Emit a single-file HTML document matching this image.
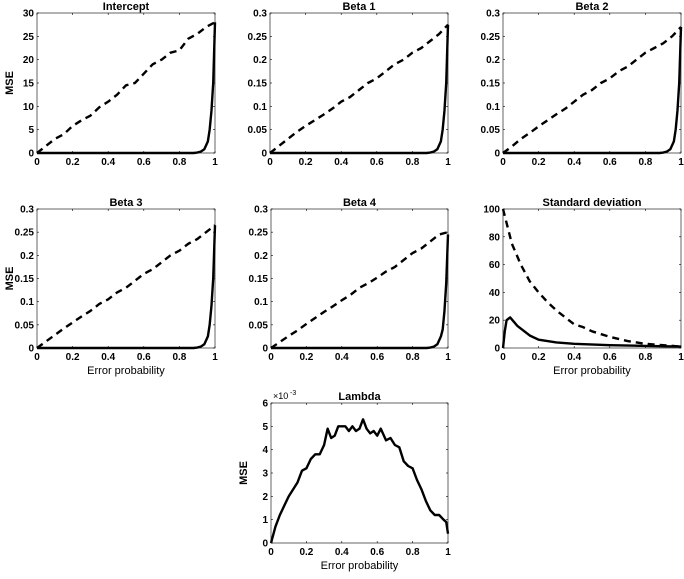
<!DOCTYPE html>
<html><head><meta charset="utf-8"><style>
body{margin:0;background:#fff;}
svg text{font-family:"Liberation Sans",Arial,sans-serif;fill:#000;}
</style></head><body>
<svg id="fig" width="684" height="574" viewBox="0 0 684 574" xmlns="http://www.w3.org/2000/svg"></svg>
<script>
const xGrid = [0,0.05,0.1,0.15,0.2,0.25,0.3,0.35,0.4,0.45,0.5,0.55,0.6,0.65,0.7,0.75,0.8,0.85,0.9,0.95,1];
const solidX = [0,0.5,0.88,0.9,0.92,0.94,0.96,0.97,0.98,0.99,1];
const interceptDash = [0,1.5,3,4,5.8,7,8,9.8,11,12.5,14.5,15,17,19,20,21.5,22,24.5,25.5,27,28];
const interceptSolid = [0,0,0,0.1,0.3,0.8,2.5,5,9,15,28];
const beta1Dash = [0,0.015,0.03,0.045,0.058,0.07,0.082,0.095,0.11,0.12,0.135,0.15,0.16,0.175,0.19,0.2,0.215,0.225,0.24,0.255,0.275];
const beta1Solid = [0,0,0,0.001,0.003,0.008,0.025,0.05,0.09,0.15,0.275];
const beta2Dash = [0,0.014,0.03,0.043,0.057,0.07,0.083,0.095,0.11,0.125,0.135,0.15,0.16,0.175,0.185,0.2,0.215,0.225,0.235,0.25,0.27];
const beta2Solid = [0,0,0,0.001,0.003,0.008,0.025,0.05,0.09,0.15,0.27];
const beta3Dash = [0,0.014,0.028,0.042,0.055,0.068,0.08,0.095,0.105,0.12,0.13,0.145,0.16,0.17,0.185,0.2,0.21,0.225,0.235,0.25,0.265];
const beta3Solid = [0,0,0,0.001,0.003,0.008,0.025,0.05,0.09,0.15,0.265];
const beta4Dash = [0,0.013,0.026,0.038,0.052,0.065,0.078,0.09,0.103,0.115,0.13,0.14,0.152,0.165,0.175,0.19,0.205,0.215,0.23,0.245,0.25];
const beta4Solid = [0,0,0,0.001,0.003,0.008,0.025,0.04,0.08,0.14,0.245];
const sdDashX = [0,0.05,0.1,0.15,0.2,0.25,0.3,0.35,0.4,0.45,0.5,0.6,0.7,0.8,0.9,1];
const sdDash = [100,75,60,48,40,33,27,22,17,15,12,8,5,3,2,1];
const sdSolidX = [0,0.01,0.02,0.04,0.06,0.08,0.1,0.15,0.2,0.3,0.4,0.6,0.8,1];
const sdSolid = [0,12,20,22,19,16,14,9,6,4,3,2,1.5,1];
const lambdaX = [0,0.025,0.05,0.075,0.1,0.125,0.15,0.175,0.2,0.225,0.25,0.275,0.3,0.32,0.34,0.36,0.38,0.4,0.42,0.44,0.46,0.48,0.5,0.52,0.54,0.56,0.58,0.6,0.62,0.65,0.675,0.7,0.725,0.75,0.775,0.8,0.825,0.85,0.875,0.9,0.925,0.95,0.975,0.99,1];
const lambdaY = [0,0.7,1.2,1.6,2.0,2.3,2.6,3.1,3.2,3.6,3.8,3.8,4.2,4.9,4.5,4.6,5.0,5.0,5.0,4.8,5.0,4.8,4.9,5.3,4.9,4.7,4.8,4.6,4.9,4.4,4.5,4.2,4.1,3.5,3.3,3.2,2.7,2.3,1.8,1.4,1.2,1.2,1.0,0.9,0.4];
const xTicks = [0,0.2,0.4,0.6,0.8,1];

const NS="http://www.w3.org/2000/svg";
const fig=document.getElementById('fig');
function mk(tag,attrs,parent){const e=document.createElementNS(NS,tag);for(const k in attrs)e.setAttribute(k,attrs[k]);(parent||fig).appendChild(e);return e;}

function panel(o){
  const g=mk('g',{});
  
  
  const sx=v=>o.x0+(o.x1-o.x0)*v;
  const sy=v=>o.y1-(o.y1-o.y0)*(v/o.ymax);
  const box=mk('rect',{x:o.x0,y:o.y0,width:o.x1-o.x0,height:o.y1-o.y0,fill:'none',stroke:'#000','stroke-width':0.6},g);
  
  
  xTicks.forEach(t=>{
    mk('line',{x1:sx(t),x2:sx(t),y1:o.y1,y2:o.y1-2,stroke:'#000','stroke-width':0.6},g);
    mk('line',{x1:sx(t),x2:sx(t),y1:o.y0,y2:o.y0+2,stroke:'#000','stroke-width':0.6},g);
    const tx=mk('text',{x:sx(t),y:o.y1+12,'font-size':10,'font-weight':'bold','text-anchor':'middle'},g);
    tx.textContent=String(t);
    
    
  });
  o.yTicks.forEach((t,i)=>{
    mk('line',{x1:o.x0,x2:o.x0+2,y1:sy(t),y2:sy(t),stroke:'#000','stroke-width':0.6},g);
    mk('line',{x1:o.x1,x2:o.x1-2,y1:sy(t),y2:sy(t),stroke:'#000','stroke-width':0.6},g);
    const tx=mk('text',{x:o.x0-3,y:sy(t)+3.5,'font-size':10,'font-weight':'bold','text-anchor':'end'},g);
    tx.textContent=o.yLabels[i];
    
    
  });
  const ti=mk('text',{x:(o.x0+o.x1)/2,y:o.y0-3,'font-size':11,'font-weight':'bold','text-anchor':'middle'},g);
  ti.textContent=o.title;
  
  
  if(o.ylab){const t=mk('text',{x:0,y:0,'font-size':11,'font-weight':'bold','text-anchor':'middle',transform:`translate(${o.x0-24},${(o.y0+o.y1)/2}) rotate(-90)`},g);t.textContent='MSE';}
  if(o.xlab){const t=mk('text',{x:(o.x0+o.x1)/2,y:o.y1+26,'font-size':11,'text-anchor':'middle'},g);t.textContent='Error probability';}
  if(o.exp){const t=mk('text',{x:o.x0+2,y:o.y0-4,'font-size':9},g);t.textContent='×10';const s=mk('text',{x:o.x0+19,y:o.y0-8,'font-size':7},g);s.textContent='-3';}
  o.series.forEach(s=>{
    const d=s.xs.map((x,i)=>(i?'L':'M')+sx(x).toFixed(2)+','+sy(s.ys[i]).toFixed(2)).join('');
    const p=mk('path',{d:d,fill:'none',stroke:'#000','stroke-width':2.4,'stroke-linejoin':'round','stroke-dasharray':s.dash?'7,5':'none'},g);
    
    
  });
}
const bt=[0,0.05,0.1,0.15,0.2,0.25,0.3], bl=['0','0.05','0.1','0.15','0.2','0.25','0.3'];
panel({name:'intercept-panel',title:'Intercept',x0:37,x1:215,y0:13,y1:153,ymax:30,yTicks:[0,5,10,15,20,25,30],yLabels:['0','5','10','15','20','25','30'],ylab:true,
  series:[{name:'dashed-series',xs:xGrid,ys:interceptDash,dash:true},{name:'solid-series',xs:solidX,ys:interceptSolid}]});
panel({name:'beta1-panel',title:'Beta 1',x0:270,x1:448,y0:13,y1:153,ymax:0.3,yTicks:bt,yLabels:bl,
  series:[{name:'dashed-series',xs:xGrid,ys:beta1Dash,dash:true},{name:'solid-series',xs:solidX,ys:beta1Solid}]});
panel({name:'beta2-panel',title:'Beta 2',x0:503,x1:681,y0:13,y1:153,ymax:0.3,yTicks:bt,yLabels:bl,
  series:[{name:'dashed-series',xs:xGrid,ys:beta2Dash,dash:true},{name:'solid-series',xs:solidX,ys:beta2Solid}]});
panel({name:'beta3-panel',title:'Beta 3',x0:37,x1:215,y0:209,y1:348,ymax:0.3,yTicks:bt,yLabels:bl,ylab:true,xlab:true,
  series:[{name:'dashed-series',xs:xGrid,ys:beta3Dash,dash:true},{name:'solid-series',xs:solidX,ys:beta3Solid}]});
panel({name:'beta4-panel',title:'Beta 4',x0:271,x1:448,y0:209,y1:348,ymax:0.3,yTicks:bt,yLabels:bl,
  series:[{name:'dashed-series',xs:xGrid,ys:beta4Dash,dash:true},{name:'solid-series',xs:solidX,ys:beta4Solid}]});
panel({name:'sd-panel',title:'Standard deviation',x0:503,x1:681,y0:209,y1:348,ymax:100,yTicks:[0,20,40,60,80,100],yLabels:['0','20','40','60','80','100'],xlab:true,
  series:[{name:'dashed-series',xs:sdDashX,ys:sdDash,dash:true},{name:'solid-series',xs:sdSolidX,ys:sdSolid}]});
panel({name:'lambda-panel',title:'Lambda',x0:271,x1:448,y0:403,y1:543,ymax:6,yTicks:[0,1,2,3,4,5,6],yLabels:['0','1','2','3','4','5','6'],ylab:true,xlab:true,exp:true,
  series:[{name:'lambda-series',xs:lambdaX,ys:lambdaY}]});
</script>
</body></html>
